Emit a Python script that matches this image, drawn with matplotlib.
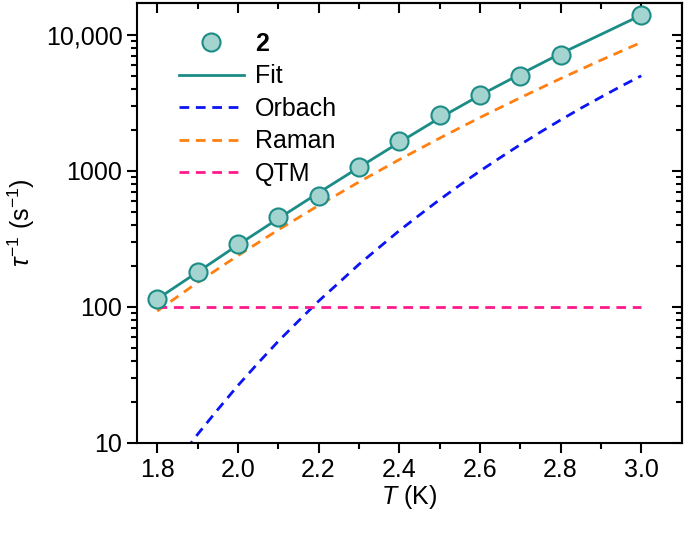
import numpy as np
import matplotlib
matplotlib.use('Agg')
import matplotlib.pyplot as plt
from matplotlib.ticker import FixedLocator, LogLocator, NullFormatter

plt.rcParams['font.family'] = ['Liberation Sans', 'DejaVu Sans']
plt.rcParams['mathtext.fontset'] = 'custom'
plt.rcParams['mathtext.rm'] = 'Liberation Sans'
plt.rcParams['mathtext.it'] = 'Liberation Sans:italic'

# measured points (compound 2)
temp_pontos = [1.8, 1.9, 2.0, 2.1, 2.2, 2.3, 2.4, 2.5, 2.6, 2.7, 2.8, 3.0]
taxa_pontos = [114, 179, 290, 456, 659, 1067, 1660, 2600, 3605, 4980, 7115, 14060]

# curves
temp_curvas = [1.8, 1.9, 2.0, 2.1, 2.2, 2.3, 2.4, 2.5, 2.6, 2.7, 2.8, 2.9, 3.0]
fit = [114, 180, 285, 445, 690, 1060, 1620, 2450, 3600, 5150, 7300, 10100, 14000]
raman = [93, 151, 238, 368, 557, 828, 1210, 1740, 2470, 3454, 4780, 6530, 8830]
qtm = [100, 100, 100, 100, 100, 100, 100, 100, 100, 100, 100, 100, 100]

temp_orbach = [1.8, 1.85, 1.9, 1.95, 2.0, 2.05, 2.1, 2.15, 2.2, 2.25, 2.3, 2.35, 2.4,
               2.45, 2.5, 2.55, 2.6, 2.65, 2.7, 2.75, 2.8, 2.85, 2.9, 2.95, 3.0]
orbach = [4.6, 7.3, 11.5, 17.5, 26.3, 38.5, 55.7, 78.5, 110, 150, 205, 273, 363,
          473, 614, 785, 997, 1250, 1560, 1930, 2370, 2890, 3490, 4200, 5010]

cor_teal = '#1b8c86'
cor_face = '#a3d4cf'
tam_fonte = 18
tracejado = (0, (3.5, 2.4))

fig = plt.figure(figsize=(6.85, 5.39), dpi=100)
ax = fig.add_axes([0.2, 0.1787, 0.795, 0.8163])

ax.plot(temp_curvas, fit, color=cor_teal, lw=2.0, label='Fit', zorder=3)
ax.plot(temp_orbach, orbach, color='#0a14f5', lw=2.0, ls=tracejado, label='Orbach', zorder=2)
ax.plot(temp_curvas, raman, color='#ff8010', lw=2.0, ls=tracejado, label='Raman', zorder=2)
ax.plot(temp_curvas, qtm, color='#ff1a8c', lw=2.0, ls=tracejado, label='QTM', zorder=2)
ax.plot(temp_pontos, taxa_pontos, 'o', ms=13, mfc=cor_face, mec=cor_teal, mew=1.5,
        ls='none', label='2', zorder=4)

ax.set_yscale('log')
ax.set_xlim(1.75, 3.1)
ax.set_ylim(10, 17300)

ax.xaxis.set_major_locator(FixedLocator([1.8, 2.0, 2.2, 2.4, 2.6, 2.8, 3.0]))
ax.xaxis.set_minor_locator(FixedLocator([1.9, 2.1, 2.3, 2.5, 2.7, 2.9]))
ax.set_xticklabels(['1.8', '2.0', '2.2', '2.4', '2.6', '2.8', '3.0'])
ax.yaxis.set_major_locator(FixedLocator([10, 100, 1000, 10000]))
ax.set_yticklabels(['10', '100', '1000', '10,000'])
ax.yaxis.set_minor_locator(LogLocator(base=10, subs=np.arange(2, 10)))
ax.yaxis.set_minor_formatter(NullFormatter())

ax.tick_params(which='both', direction='out', width=1.5, labelsize=tam_fonte, colors='black')
ax.tick_params(which='major', length=7)
ax.tick_params(which='minor', length=4)
ax.tick_params(axis='x', which='major', pad=4)
for s in ax.spines.values():
    s.set_linewidth(1.5)

topo = ax.secondary_xaxis('top')
topo.xaxis.set_major_locator(FixedLocator([1.8, 2.0, 2.2, 2.4, 2.6, 2.8, 3.0]))
topo.xaxis.set_minor_locator(FixedLocator([1.9, 2.1, 2.3, 2.5, 2.7, 2.9]))
topo.tick_params(which='both', direction='in', width=1.5, labeltop=False)
topo.tick_params(which='major', length=7)
topo.tick_params(which='minor', length=4)
topo.spines['top'].set_linewidth(1.5)

direita = ax.secondary_yaxis('right')
direita.yaxis.set_major_locator(FixedLocator([10, 100, 1000, 10000]))
direita.yaxis.set_minor_locator(LogLocator(base=10, subs=np.arange(2, 10)))
direita.yaxis.set_minor_formatter(NullFormatter())
direita.tick_params(which='both', direction='in', width=1.5, labelright=False)
direita.tick_params(which='major', length=7)
direita.tick_params(which='minor', length=4)
direita.spines['right'].set_linewidth(1.5)

ax.set_xlabel('$T$ (K)', fontsize=tam_fonte, labelpad=1)
ax.set_ylabel(r'$\tau^{-1}$ (s$^{-1}$)', fontsize=tam_fonte, labelpad=6)

handles, labels = ax.get_legend_handles_labels()
ordem = [4, 0, 1, 2, 3]
leg = ax.legend([handles[i] for i in ordem], [labels[i] for i in ordem],
                loc='upper left', bbox_to_anchor=(0.035, 0.985), frameon=False,
                fontsize=tam_fonte, handlelength=2.6, labelspacing=0.34, numpoints=1,
                handletextpad=0.45)
leg.get_texts()[0].set_fontweight('bold')

fig.savefig('out.png', dpi=100)
